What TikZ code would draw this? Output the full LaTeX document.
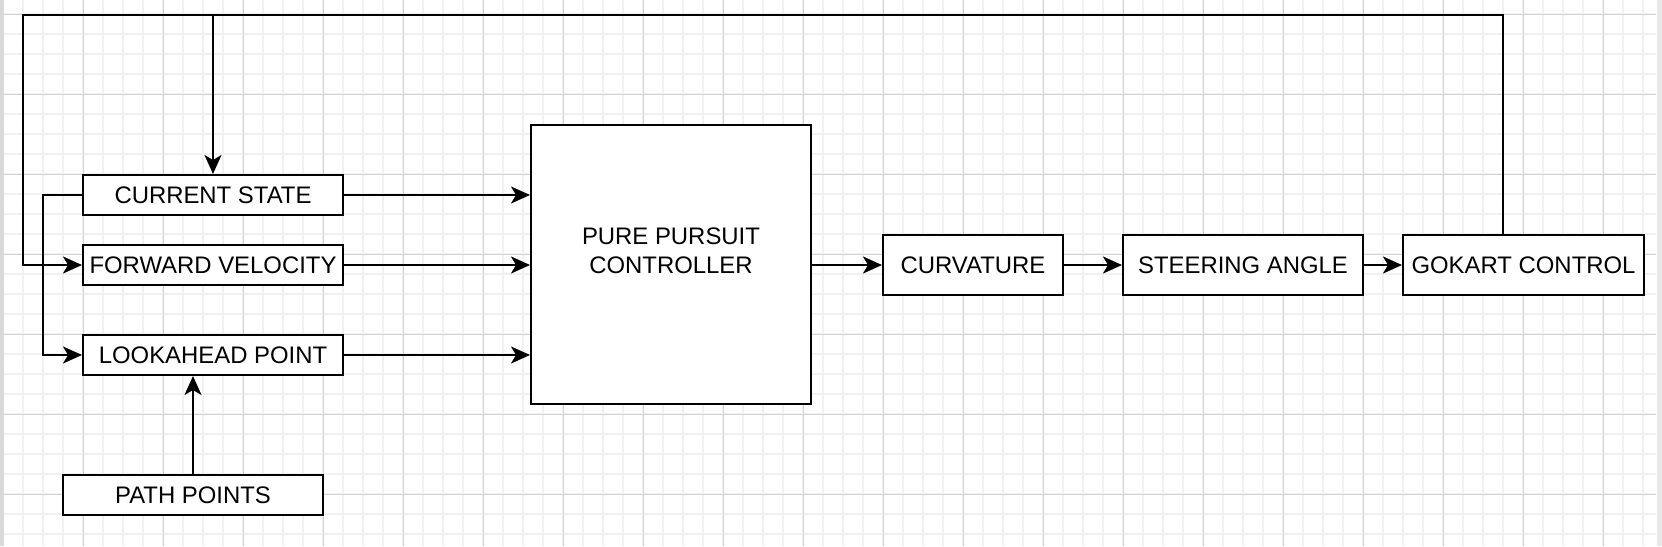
\documentclass[tikz,border=0pt]{standalone}
\usepackage{fontspec}
\setmainfont{Liberation Sans}
\usetikzlibrary{arrows.meta}
\definecolor{gridminor}{HTML}{F1F1F1}
\definecolor{gridmajor}{HTML}{D2D2D2}
\definecolor{edgeL}{HTML}{D9D9D9}
\definecolor{edgeR}{HTML}{E8E8E8}
\tikzset{
  blk/.style={draw=black, line width=2pt, fill=white, inner sep=0pt, font=\fontsize{23.9}{28.5}\selectfont},
  conn/.style={draw=black, line width=2pt},
  arr/.style={conn, -{Stealth[length=19pt, width=17pt, inset=5pt]}},
}
\begin{document}
\begin{tikzpicture}[x=1pt, y=-1pt]
\useasboundingbox (0,0) rectangle (1662,546);
% background grid
\fill[white] (0,0) rectangle (1662,546);
\foreach \gx in {23,43,...,1643} \draw[gridminor, line width=2pt] (\gx,0) -- (\gx,546);
\foreach \gy in {14,34,...,534} \draw[gridminor, line width=2pt] (4,\gy) -- (1656,\gy);
\foreach \gx in {83,163,...,1603} \draw[gridmajor, line width=1pt] (\gx,0) -- (\gx,546);
\foreach \gy in {14,94,...,494} \draw[gridmajor, line width=1pt] (4,\gy) -- (1656,\gy);
\fill[edgeL] (0,0) rectangle (3.5,546);
\fill[edgeR] (1657,0) rectangle (1662,546);

% nodes
\node[blk, minimum width=260pt, minimum height=40pt] (cs) at (213,195) {CURRENT STATE};
\node[blk, minimum width=260pt, minimum height=40pt] (fv) at (213,265) {FORWARD VELOCITY};
\node[blk, minimum width=260pt, minimum height=40pt] (lp) at (213,355) {LOOKAHEAD POINT};
\node[blk, minimum width=260pt, minimum height=40pt] (pp) at (193,495) {PATH POINTS};
\node[blk, minimum width=280pt, minimum height=279pt] (ctrl) at (671,264.5) {};
\node[font=\fontsize{23.9}{28.5}\selectfont, align=center, inner sep=0pt] (ctrltext) at (671,251) {PURE PURSUIT\\CONTROLLER};
\node[blk, minimum width=180pt, minimum height=60pt] (curv) at (973,265) {CURVATURE};
\node[blk, minimum width=240pt, minimum height=60pt] (steer) at (1243,265) {STEERING ANGLE};
\node[blk, minimum width=241pt, minimum height=60pt] (gok) at (1523.5,265) {GOKART CONTROL};

% coordinates for feedback loop
\coordinate (gtop) at (1503,15);
\coordinate (ltop) at (22.5,15);
\coordinate (cstop) at (213,15);
\coordinate (lbr) at (43,195);

% connectors
\draw[arr] (cs.east) -- (cs.east -| ctrl.west);
\draw[arr] (fv.east) -- (fv.east -| ctrl.west);
\draw[arr] (lp.east) -- (lp.east -| ctrl.west);
\draw[arr] (pp.north) -- (pp.north |- lp.south);
\draw[arr] (cs.west) -- (lbr) |- (lp.west);
\draw[arr] (gok.north -| gtop) -- (gtop) -- (ltop) |- (fv.west);
\draw[arr] (cstop) -- (cs.north);
\draw[arr] (ctrl.east |- curv.west) -- (curv.west);
\draw[arr] (curv.east) -- (steer.west);
\draw[arr] (steer.east) -- (gok.west);
\end{tikzpicture}
\end{document}
